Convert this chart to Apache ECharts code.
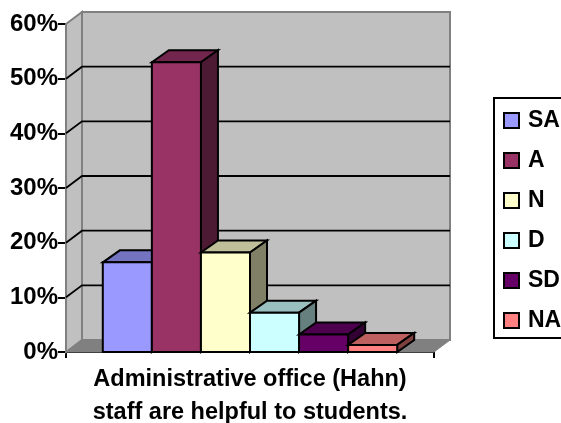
<!DOCTYPE html>
<html><head><meta charset="utf-8">
<style>html,body{margin:0;padding:0;background:#fff}#c{width:561px;height:423px}</style>
<script src="https://cdn.jsdelivr.net/npm/echarts@6/dist/echarts.min.js"></script>
</head><body><div id="c"></div>
<script>
const categoryLabel = 'Administrative office (Hahn)\nstaff are helpful to students.';
const seriesNames = ['SA','A','N','D','SD','NA'];
const seriesValues = [16.4,53,18.2,7.2,3.2,1.3];
const seriesColors = ['#9999FF','#993366','#FFFFCC','#CCFFFF','#660066','#FF8080'];
const gridTicks = [10,20,30,40,50];
const FONT = '"Liberation Sans", Arial, sans-serif';
const WALL_DX = 16, WALL_DY = 12, BAR_DX = 17, BAR_DY = 12;

function shade(hex, f){
  const n = parseInt(hex.slice(1),16);
  const c = [n>>16&255,n>>8&255,n&255].map(v=>Math.round(v*f));
  return 'rgb('+c.join(',')+')';
}
function poly(points, fill, stroke, w){
  return {type:'polygon',shape:{points},style:{fill,stroke:stroke||'none',lineWidth:w||0,lineJoin:'miter'}};
}
const wallsSeries = {
  type:'custom', name:'walls', silent:true, z:1, data:[[0,0]], clip:false,
  renderItem(params, api){
    const g = params.coordSys, x0=g.x, x1=g.x+g.width, yT=g.y, yB=g.y+g.height;
    const dx=WALL_DX, dy=WALL_DY;
    return {type:'group',children:[
      poly([[x0+dx,yT-dy],[x1+dx,yT-dy],[x1+dx,yB-dy],[x0+dx,yB-dy]],'#C0C0C0','#808080',2),
      poly([[x0,yT],[x0+dx,yT-dy],[x0+dx,yB-dy],[x0,yB]],'#C0C0C0','#808080',2),
      poly([[x0,yB],[x0+dx,yB-dy],[x1+dx,yB-dy],[x1,yB]],'#808080','#808080',1)
    ]};
  }
};
const gridSeries = {
  type:'custom', name:'gridlines', silent:true, z:2, clip:false,
  data:gridTicks.map(v=>[0,v]),
  renderItem(params, api){
    const g = params.coordSys, y = api.coord([0,api.value(1)])[1];
    return {type:'polyline',shape:{points:[[g.x,y],[g.x+WALL_DX,y-WALL_DY],[g.x+g.width+WALL_DX,y-WALL_DY]]},
      style:{fill:'none',stroke:'#000',lineWidth:1.8}};
  }
};
const barSeries = seriesNames.map((name,i)=>({
  type:'custom', name, z:3+i, clip:false,
  itemStyle:{color:seriesColors[i],borderColor:'#000',borderWidth:2},
  data:[[0,seriesValues[i]]],
  renderItem(params, api){
    const band = api.size([1,0])[0];
    const c = api.coord([0,api.value(1)]), base = api.coord([0,0]);
    const w = band*0.8/seriesNames.length;
    const xl = base[0]-band*0.4+i*w, xr = xl+w, yt = c[1], yb = base[1];
    const col = seriesColors[i];
    return {type:'group',children:[
      poly([[xl,yt],[xl+BAR_DX,yt-BAR_DY],[xr+BAR_DX,yt-BAR_DY],[xr,yt]],shade(col,0.75),'#000',2),
      poly([[xr,yt],[xr+BAR_DX,yt-BAR_DY],[xr+BAR_DX,yb-BAR_DY],[xr,yb]],shade(col,0.5),'#000',2),
      poly([[xl,yt],[xr,yt],[xr,yb],[xl,yb]],col,'#000',2)
    ]};
  }
}));
const chart = echarts.init(document.getElementById('c'),null,{renderer:'canvas'});
chart.setOption({
  animation:false,
  backgroundColor:'#fff',
  grid:{left:66,right:127,top:24,bottom:71,containLabel:false,outerBoundsMode:'none'},
  xAxis:{type:'category',data:[categoryLabel],
    axisLine:{lineStyle:{color:'#000',width:2}},
    axisTick:{show:true,length:6,lineStyle:{color:'#000',width:2}},
    axisLabel:{color:'#000',fontFamily:FONT,fontWeight:'bold',fontSize:23.5,lineHeight:33,margin:11,interval:0},
    splitLine:{show:false}},
  yAxis:{type:'value',min:0,max:60,interval:10,
    axisLine:{show:true,lineStyle:{color:'#000',width:2}},
    axisTick:{show:true,length:8,lineStyle:{color:'#000',width:2}},
    axisLabel:{color:'#000',fontFamily:FONT,fontWeight:'bold',fontSize:24,margin:8,formatter:'{value}%'},
    splitLine:{show:false}},
  legend:{show:true,orient:'vertical',left:494,top:98,data:seriesNames,icon:'rect',
    itemWidth:15,itemHeight:15,itemGap:17,padding:[11,30,6,9],
    borderColor:'#000',borderWidth:2,backgroundColor:'#fff',
    selectedMode:false,itemStyle:{borderColor:'#000',borderWidth:2},
    textStyle:{color:'#000',fontFamily:FONT,fontWeight:'bold',fontSize:23,padding:[0,0,0,4]}},
  series:[wallsSeries,gridSeries,...barSeries]
});
</script></body></html>
